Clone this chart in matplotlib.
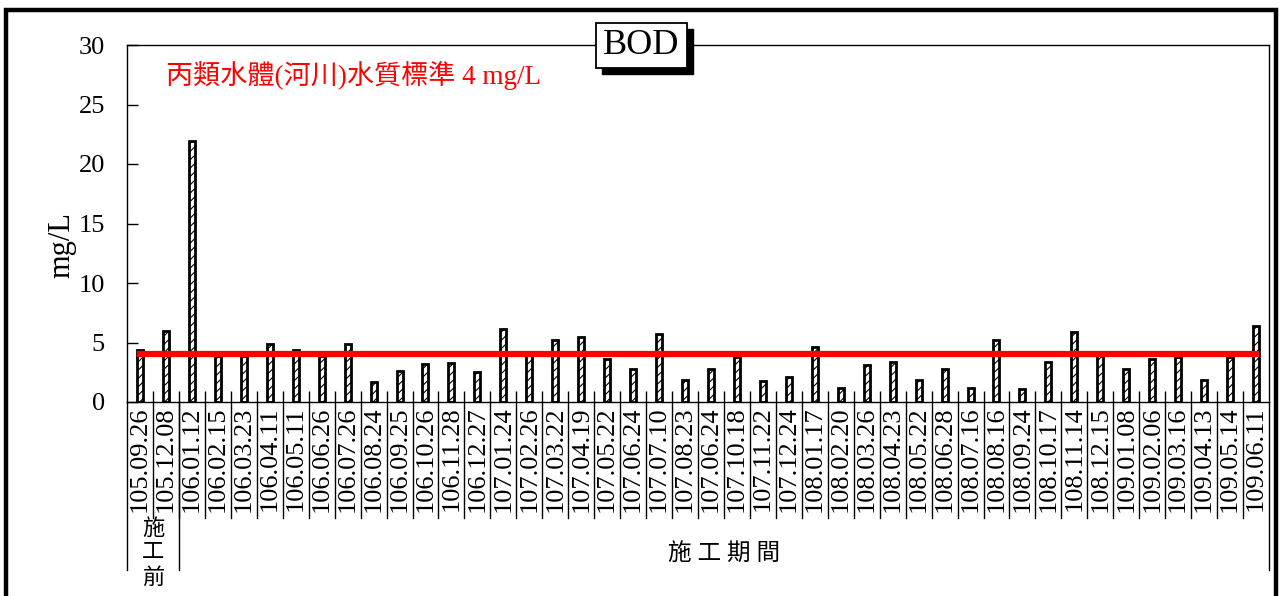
import numpy as np
import matplotlib
matplotlib.use("Agg")
import matplotlib.pyplot as plt
from matplotlib.patches import Rectangle
from matplotlib.lines import Line2D

plt.rcParams['font.family'] = ['Liberation Serif', 'Noto Sans CJK TC']
plt.rcParams['hatch.color'] = '#9a9a9a'
plt.rcParams['hatch.linewidth'] = 0.8

dates = ["105.09.26", "105.12.08", "106.01.12", "106.02.15", "106.03.23", "106.04.11",
         "106.05.11", "106.06.26", "106.07.26", "106.08.24", "106.09.25", "106.10.26",
         "106.11.28", "106.12.27", "107.01.24", "107.02.26", "107.03.22", "107.04.19",
         "107.05.22", "107.06.24", "107.07.10", "107.08.23", "107.06.24", "107.10.18",
         "107.11.22", "107.12.24", "108.01.17", "108.02.20", "108.03.26", "108.04.23",
         "108.05.22", "108.06.28", "108.07.16", "108.08.16", "108.09.24", "108.10.17",
         "108.11.14", "108.12.15", "109.01.08", "109.02.06", "109.03.16", "109.04.13",
         "109.05.14", "109.06.11"]
bod = [4.4, 6.0, 21.9, 3.9, 3.9, 4.9, 4.4, 3.9, 4.9, 1.7, 2.6, 3.2,
       3.25, 2.5, 6.1, 4.2, 5.2, 5.5, 3.6, 2.8, 5.7, 1.85, 2.8, 3.75,
       1.75, 2.1, 4.65, 1.2, 3.15, 3.35, 1.85, 2.8, 1.2, 5.25, 1.1, 3.35,
       5.9, 4.2, 2.8, 3.65, 3.75, 1.85, 3.75, 6.4]
standard = 4
standard_label = "丙類水體(河川)水質標準 4 mg/L"
n_before = 2
group_labels = ["施\n工\n前", "施 工 期 間"]

n = len(dates)
x = np.arange(n)

fig = plt.figure(figsize=(12.8, 5.96), dpi=100)
ax = fig.add_axes([127 / 1280, 1 - 402 / 596, (1269 - 127) / 1280, (402 - 45) / 596])

ax.bar(x, bod, width=0.23, color='white', edgecolor='black', linewidth=2,
       hatch='////', zorder=2)
ax.plot([0, n - 1], [standard, standard], color='#ff0000', linewidth=4.5, zorder=3)

ax.set_xlim(-0.5, n - 0.5)
ax.set_ylim(0, 30)
ax.set_yticks(range(0, 31, 5))
ax.tick_params(axis='y', direction='in', length=8, width=1, labelsize=19, pad=16)
ax.set_xticks(x)
ax.set_xticklabels(dates, rotation=90, fontsize=19)
ax.tick_params(axis='x', length=0, pad=3)
ax.set_xticks(np.arange(0.5, n - 1, 1), minor=True)
ax.tick_params(axis='x', which='minor', direction='in', length=8, width=1)
ax.set_ylabel("mg/L", fontsize=22)
ax.yaxis.set_label_coords(-0.044, 0.44)
for s in ax.spines.values():
    s.set_linewidth(1)

ax.text(0.034, 0.915, standard_label, transform=ax.transAxes, color='#ff0000',
        fontsize=19.5, va='center', ha='left')

# category table lines below the axis
to_ax = ax.transAxes
for b in np.arange(0.5, n - 1, 1):
    xb = (b + 0.5) / n
    ax.add_line(Line2D([xb, xb], [0, -116 / 357], transform=to_ax, color='black',
                       linewidth=1, clip_on=False))
for xb in [0, n_before / n, 1]:
    ax.add_line(Line2D([xb, xb], [0, -168 / 357], transform=to_ax, color='black',
                       linewidth=1, clip_on=False))
ax.text(n_before / 2 / n, -152 / 357, group_labels[0], transform=to_ax,
        ha='center', va='center', fontsize=16, linespacing=1.3)
ax.text((n_before + n) / 2 / n, -153 / 357, group_labels[1], transform=to_ax,
        ha='center', va='center', fontsize=17)

# BOD title box with shadow
fig.patches.append(Rectangle((602 / 1280, 1 - 74 / 596), 91 / 1280, 45 / 596,
                             transform=fig.transFigure, facecolor='black',
                             edgecolor='black', zorder=5))
fig.patches.append(Rectangle((596 / 1280, 1 - 68 / 596), 91 / 1280, 45 / 596,
                             transform=fig.transFigure, facecolor='white',
                             edgecolor='black', linewidth=1.3, zorder=6))
fig.text(641.5 / 1280, 1 - 46 / 596, "BOD", ha='center', va='center', fontsize=26,
         zorder=7)

# outer frame
fig.patches.append(Rectangle((6 / 1280, -0.05), 1270 / 1280, 1.05 - 10 / 596,
                             transform=fig.transFigure, facecolor='none',
                             edgecolor='black', linewidth=3.2, zorder=1))

fig.savefig("out.png", dpi=100)
